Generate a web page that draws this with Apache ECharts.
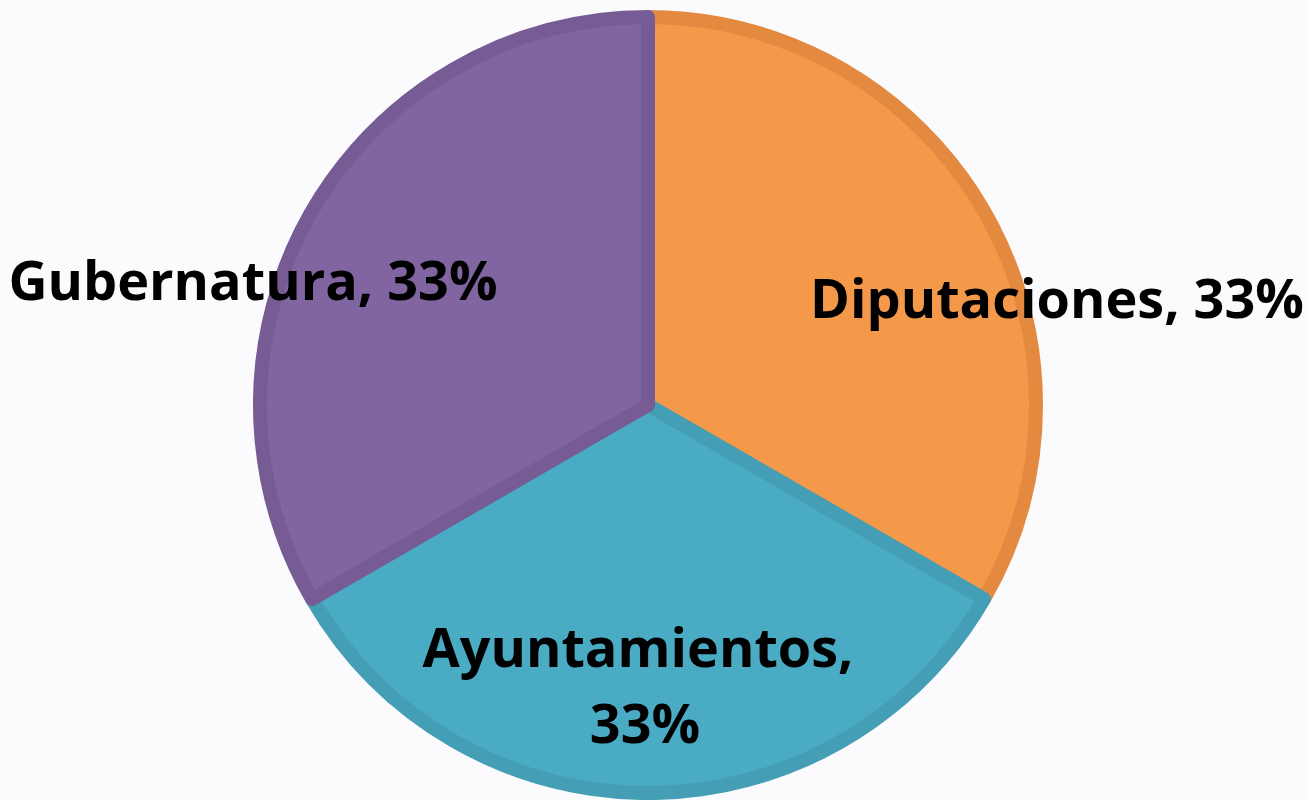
<!DOCTYPE html>
<html>
<head>
<meta charset="utf-8">
<script src="https://cdn.jsdelivr.net/npm/echarts@6/dist/echarts.min.js"></script>
<style>
html, body { margin: 0; padding: 0; background: #fbfbfd; }
#chart { width: 1307px; height: 800px; }
</style>
</head>
<body>
<div id="chart"></div>
<script>
// datos del gráfico
var categorias = ['Diputaciones', 'Ayuntamientos', 'Gubernatura'];
var valores = [1, 1, 1];
var colores = ['#f4984a', '#4aabc4', '#8065a1'];
var bordes = ['#e38a40', '#439eb6', '#765b95'];

// posición de cada etiqueta (desplazamiento desde el centro del pastel)
var etiquetaPos = [[409, -102], [-3, 285], [-395, -120]];
var centro = [648, 405];

var datos = categorias.map(function (c, i) {
	var d = {
		name : c,
		value : valores[i],
		itemStyle : {
			color : colores[i],
			borderColor : bordes[i]
		}
	};
	if (i == 1) {
		d.label = { width : 460, overflow : 'break' };
	}
	return d;
});

var option = {
	backgroundColor : '#fbfbfd',
	animation : false,
	series : [{
		type : 'pie',
		center : centro,
		radius : 388,
		startAngle : 90,
		clockwise : true,
		silent : true,
		itemStyle : {
			borderWidth : 14
		},
		label : {
			show : true,
			position : 'inside',
			color : '#000',
			fontFamily : 'Open Sans',
			fontWeight : 'bold',
			fontSize : 54,
			lineHeight : 76,
			align : 'center',
			formatter : function (p) {
				return p.name + ', ' + Math.round(p.percent) + '%';
			}
		},
		labelLine : { show : false },
		labelLayout : function (params) {
			var p = etiquetaPos[params.dataIndex];
			return {
				x : centro[0] + p[0],
				y : centro[1] + p[1],
				align : 'center',
				verticalAlign : 'middle'
			};
		},
		data : datos
	}]
};

var chart = echarts.init(document.getElementById('chart'));
chart.setOption(option);
</script>
</body>
</html>
